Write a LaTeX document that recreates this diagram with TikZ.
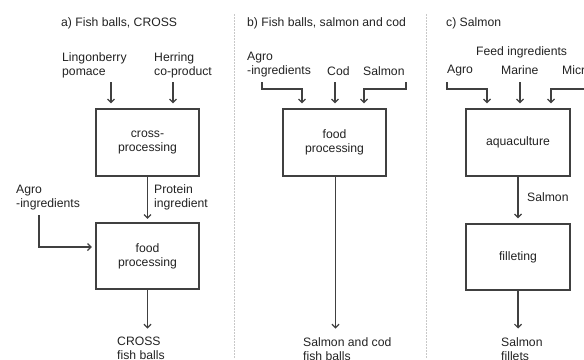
\documentclass[tikz,border=0pt]{standalone}
\usepackage{fontspec}
\setmainfont{Liberation Sans}
\usetikzlibrary{arrows.meta}
\definecolor{ln}{HTML}{404040}
\definecolor{tx}{HTML}{222222}
\definecolor{sep}{HTML}{C8C8C8}
\tikzset{
  lbl/.style={anchor=north west, inner sep=0pt, align=left, text=tx, font=\fontsize{12.2}{14}\selectfont},
  boxn/.style={draw=ln, line width=1.3pt, fill=white, minimum width=103pt, minimum height=67pt, align=center, text=tx, font=\fontsize{12.2}{14}\selectfont, inner sep=0pt},
  arr/.style={draw=ln, line width=1.2pt, -{Straight Barb[length=3.5pt,width=7pt]}},
  sepline/.style={draw=sep, line width=1pt, dash pattern=on 1.5pt off 1.5pt}
}
\begin{document}
\begin{tikzpicture}[x=1pt,y=-1pt]
\useasboundingbox (0,0) rectangle (584,359);
\clip (0,0) rectangle (584,359);
% separators
\coordinate (s1t) at (234,14); \coordinate (s1b) at (234,359);
\coordinate (s2t) at (426,14); \coordinate (s2b) at (426,359);
\draw[sepline] (s1t) -- (s1b);
\draw[sepline] (s2t) -- (s2b);

% ---------- panel a ----------
\node[lbl] (ta) at (61,17) {a) Fish balls, CROSS};
\node[lbl] (ling) at (62,52) {Lingonberry\\pomace};
\node[lbl] (herr) at (154,52) {Herring\\co-product};
\node[boxn] (cp) at (147.5,142.5) {cross-\\processing};
\node[lbl] (prot) at (154,184) {Protein\\ingredient};
\node[lbl] (agroa) at (16,185) {Agro\\-ingredients};
\node[boxn, minimum height=66pt] (fpa) at (147.5,256) {food\\processing};
\node[lbl] (crossout) at (117,337) {CROSS\\fish balls};

\coordinate (a1) at (111,82);
\coordinate (a2) at (173,82);
\draw[arr, shorten >=5pt] (a1) -- (a1 |- cp.north);
\draw[arr, shorten >=5pt] (a2) -- (a2 |- cp.north);
\draw[arr, shorten >=3.5pt] (cp.south) -- (fpa.north);
\coordinate (a3) at (39,215);
\draw[arr, shorten >=3.5pt] (a3) |- ([yshift=9pt]fpa.west);
\draw[arr, shorten >=8.5pt] (fpa.south) -- (fpa.south |- crossout.north);

% ---------- panel b ----------
\node[lbl] (tb) at (247,17) {b) Fish balls, salmon and cod};
\node[lbl] (agrob) at (247,52) {Agro\\-ingredients};
\node[lbl] (cod) at (327,66) {Cod};
\node[lbl] (salb) at (363,66) {Salmon};
\node[boxn] (fpb) at (334.5,142.5) {food\\processing};
\node[lbl] (sco) at (303,337) {Salmon and cod\\fish balls};

\coordinate (b1) at (262,82);
\coordinate (b1k) at (302,89);
\draw[arr, shorten >=5pt] (b1) |- (b1k) -- (b1k |- fpb.north);
\coordinate (b2) at (335,82);
\draw[arr, shorten >=5pt] (b2) -- (b2 |- fpb.north);
\coordinate (b3) at (406,82);
\coordinate (b3k) at (364,89);
\draw[arr, shorten >=5pt] (b3) |- (b3k) -- (b3k |- fpb.north);
\draw[arr, shorten >=8.5pt] ([xshift=1pt]fpb.south) -- ([xshift=1pt]fpb.south |- sco.north);

% ---------- panel c ----------
\node[lbl] (tc) at (446,17) {c) Salmon};
\node[lbl] (feed) at (476,46) {Feed ingredients};
\node[lbl] (agroc) at (447,65) {Agro};
\node[lbl] (marine) at (501,65) {Marine};
\node[lbl] (micr) at (562,65) {Microalgae};
\node[boxn, minimum width=104pt] (aq) at (518,142.5) {aquaculture};
\node[lbl] (salc) at (527,192) {Salmon};
\node[boxn, minimum width=104pt, minimum height=66pt] (fil) at (518,257) {filleting};
\node[lbl] (sf) at (501,337) {Salmon\\fillets};

\coordinate (c1) at (447,82);
\coordinate (c1k) at (487,89);
\draw[arr, shorten >=5pt] (c1) |- (c1k) -- (c1k |- aq.north);
\coordinate (c2) at (520,82);
\draw[arr, shorten >=5pt] (c2) -- (c2 |- aq.north);
\coordinate (c3) at (590,89);
\coordinate (c3k) at (551,89);
\draw[arr, shorten >=5pt] (c3) -- (c3k) -- (c3k |- aq.north);
\draw[arr, shorten >=5pt] (aq.south) -- (fil.north);
\draw[arr, shorten >=8.5pt] (fil.south) -- (fil.south |- sf.north);
\end{tikzpicture}
\end{document}
